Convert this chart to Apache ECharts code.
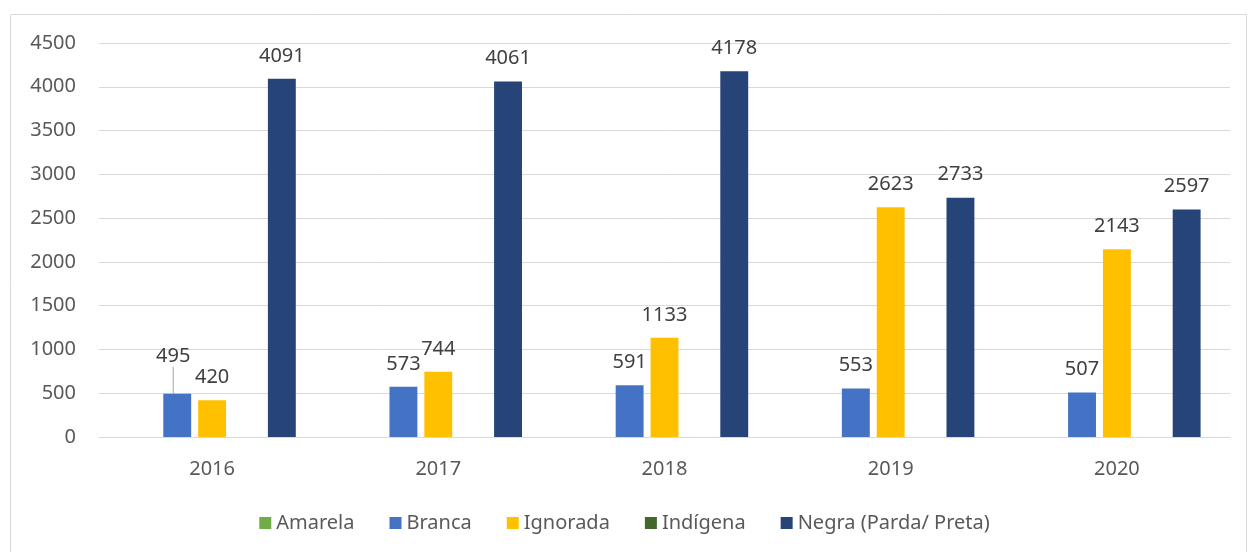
<!DOCTYPE html>
<html>
<head>
    <meta charset="utf-8">
    <title>ECharts</title>
    <script src="https://cdn.jsdelivr.net/npm/echarts@6/dist/echarts.min.js"></script>
    <style>
        html, body { margin: 0; padding: 0; background: #fff; }
    </style>
</head>
<body>
<div id="main" style="width: 1249px;height:552px;"></div>
<script type="text/javascript">
    var myChart = echarts.init(document.getElementById('main'));

    // dados
    var years = ['2016', '2017', '2018', '2019', '2020'];
    var amarela = [null, null, null, null, null];
    var branca = [495, 573, 591, 553, 507];
    var ignorada = [420, 744, 1133, 2623, 2143];
    var indigena = [null, null, null, null, null];
    var negra = [4091, 4061, 4178, 2733, 2597];
    var seriesNames = ['Amarela', 'Branca', 'Ignorada', 'Indígena', 'Negra (Parda/ Preta)'];
    var colorList = ['#70AD47', '#4472C4', '#FFC000', '#43682B', '#264478'];

    var font = 'Noto Sans';
    var fSize = 20;

    function makeSeries(idx, data) {
        return {
            name: seriesNames[idx],
            type: 'bar',
            barGap: '25%',
            barCategoryGap: '26%',
            itemStyle: { color: colorList[idx] },
            label: {
                show: true,
                position: 'top',
                distance: 13,
                color: '#404040',
                fontSize: fSize,
                fontFamily: font
            },
            data: data
        };
    }

    // o rótulo 495 foi deslocado no original, com linha de chamada
    var brancaData = branca.map(function (v, i) {
        if (i === 0) {
            return { value: v, labelLine: { show: true, lineStyle: { color: '#a6a6a6', width: 1 } } };
        }
        return v;
    });
    var sBranca = makeSeries(1, brancaData);
    sBranca.labelLayout = function (params) {
        if (params.dataIndex === 0) {
            return { dx: -4, dy: -14 };
        }
    };

    option = {
        backgroundColor: '#fff',
        animation: false,
        graphic: [{
            type: 'rect',
            shape: { x: 10.5, y: 14.5, width: 1236, height: 560 },
            style: { fill: 'none', stroke: '#d9d9d9', lineWidth: 1 },
            silent: true
        }],
        legend: {
            bottom: 14,
            left: 'center',
            itemWidth: 12,
            itemHeight: 12,
            itemGap: 35,
            icon: 'rect',
            textStyle: {
                color: '#595959',
                fontSize: fSize,
                fontFamily: font
            },
            data: seriesNames
        },
        grid: {
            left: 99,
            right: 19,
            top: 43,
            bottom: 115
        },
        xAxis: {
            type: 'category',
            data: years,
            axisLine: { lineStyle: { color: '#d9d9d9', width: 1 } },
            axisTick: { show: false },
            axisLabel: {
                color: '#595959',
                fontSize: fSize,
                fontFamily: font,
                margin: 22
            }
        },
        yAxis: {
            type: 'value',
            min: 0,
            max: 4500,
            interval: 500,
            axisLine: { show: false },
            axisTick: { show: false },
            splitLine: { lineStyle: { color: '#d9d9d9', width: 1 } },
            axisLabel: {
                color: '#595959',
                fontSize: fSize,
                fontFamily: font,
                margin: 23,
                formatter: function (v) { return String(v); }
            }
        },
        series: [
            makeSeries(0, amarela),
            sBranca,
            makeSeries(2, ignorada),
            makeSeries(3, indigena),
            makeSeries(4, negra)
        ]
    };

    myChart.setOption(option);
</script>
</body>
</html>
